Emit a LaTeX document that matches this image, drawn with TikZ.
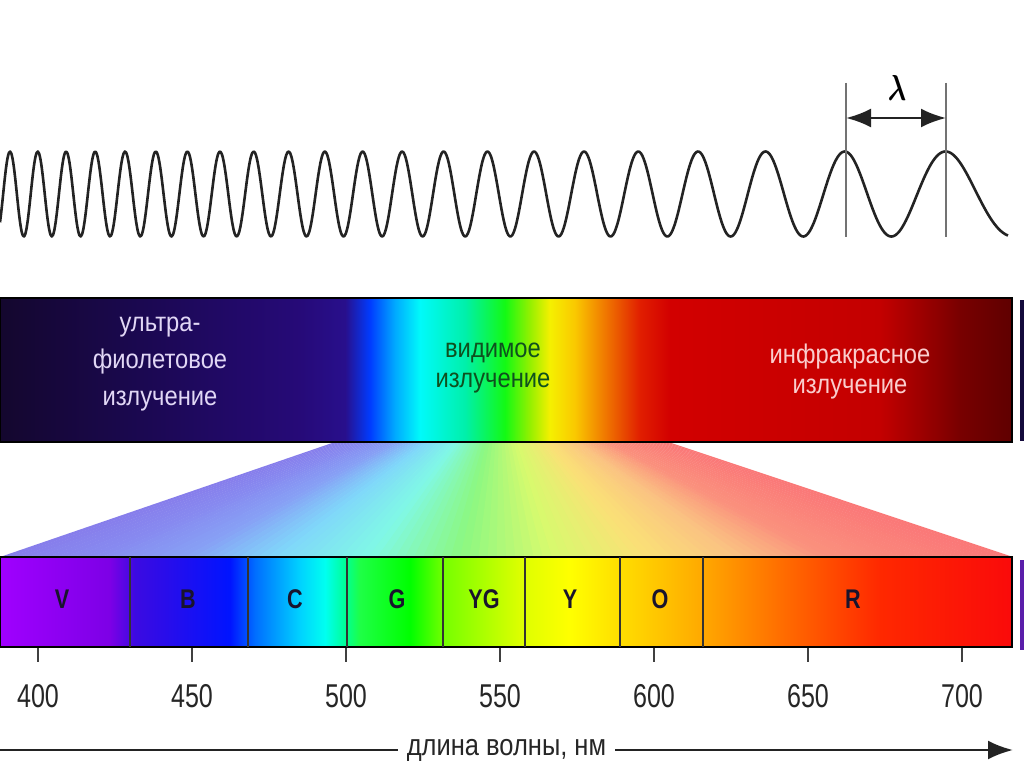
\documentclass[tikz,border=0pt]{standalone}
\usepackage{amsmath}
\usepackage{fontspec}
\setmainfont{Liberation Sans}
\newfontfamily\bandfont[FakeStretch=0.88]{Liberation Sans}
\newfontfamily\numfont[FakeStretch=0.76]{Liberation Sans}
\newfontfamily\axisfont[FakeStretch=0.85]{Liberation Sans}
\newfontfamily\letfont[FakeStretch=0.8]{Liberation Sans}
\usetikzlibrary{arrows.meta,positioning}

\pgfdeclarehorizontalshading{radband}{100bp}{rgb(0bp)=(0.078,0.027,0.18); rgb(25bp)=(0.078,0.027,0.18);
  rgb(31.42bp)=(0.102,0.031,0.306); rgb(39.82bp)=(0.149,0.039,0.471); rgb(42.05bp)=(0.157,0.059,0.549);
  rgb(43.28bp)=(0,0.235,1); rgb(44.52bp)=(0,0.667,1); rgb(45.75bp)=(0,0.98,0.98); rgb(47.98bp)=(0,0.941,0.667);
  rgb(49.95bp)=(0.078,0.98,0.078); rgb(51.19bp)=(0.588,0.941,0); rgb(52.17bp)=(0.961,0.941,0);
  rgb(53.41bp)=(0.98,0.784,0); rgb(54.89bp)=(0.941,0.471,0); rgb(56.62bp)=(0.882,0.118,0);
  rgb(58.1bp)=(0.824,0,0); rgb(68.48bp)=(0.765,0,0); rgb(72.43bp)=(0.471,0,0); rgb(75bp)=(0.373,0,0);
  rgb(100bp)=(0.373,0,0)}
\pgfdeclarehorizontalshading{visband}{100bp}{rgb(0bp)=(0.627,0,1); rgb(25bp)=(0.627,0,1);
  rgb(30.43bp)=(0.49,0,0.902); rgb(31.67bp)=(0.235,0.039,0.882); rgb(36.36bp)=(0,0.078,1);
  rgb(37.6bp)=(0,0.431,1); rgb(39.82bp)=(0,0.824,1); rgb(41.06bp)=(0,1,0.941); rgb(42.05bp)=(0,1,0.588);
  rgb(42.79bp)=(0.118,1,0.275); rgb(45.26bp)=(0,1,0); rgb(46.99bp)=(0.471,1,0); rgb(50.69bp)=(0.863,1,0);
  rgb(53.16bp)=(1,1,0); rgb(55.39bp)=(1,0.882,0); rgb(59.59bp)=(1,0.667,0); rgb(63.54bp)=(1,0.431,0);
  rgb(68.48bp)=(1,0.157,0); rgb(75bp)=(0.98,0.04,0.04); rgb(100bp)=(0.98,0.04,0.04)}

\definecolor{fun0}{RGB}{135,125,235}
\definecolor{fun1}{RGB}{135,138,240}
\definecolor{fun2}{RGB}{135,160,245}
\definecolor{fun3}{RGB}{128,215,250}
\definecolor{fun4}{RGB}{128,248,230}
\definecolor{fun5}{RGB}{140,248,130}
\definecolor{fun6}{RGB}{215,250,110}
\definecolor{fun7}{RGB}{250,225,118}
\definecolor{fun8}{RGB}{250,195,130}
\definecolor{fun9}{RGB}{250,145,125}
\definecolor{fun10}{RGB}{250,130,122}
\definecolor{fun11}{RGB}{250,120,120}
\definecolor{uvink}{RGB}{225,215,245}
\definecolor{visink}{RGB}{15,80,30}
\definecolor{irink}{RGB}{250,205,205}
\definecolor{letterink}{RGB}{25,20,45}
\definecolor{wavegray}{RGB}{35,35,35}
\definecolor{edgenavy}{RGB}{20,10,60}
\definecolor{edgeviolet}{RGB}{90,30,170}

\begin{document}
\begin{tikzpicture}
[x=1pt,y=-1pt,>={Latex[length=25pt,width=19pt]},
 wave/.style={line width=2.6pt,color=wavegray,line join=round},
 marker/.style={line width=1.1pt,color=black!55},
 band/.style={draw=black,line width=2pt},
 divider/.style={line width=1.3pt,color=black!80},
 tickmark/.style={line width=1.2pt,color=black!75},
 axisline/.style={line width=2.6pt,color=wavegray},
 bandtext/.style={align=center,inner sep=0pt,font=\bandfont\fontsize{27}{30}\selectfont},
 letter/.style={inner sep=0pt,font=\letfont\bfseries\fontsize{27}{27}\selectfont,text=letterink},
 numlabel/.style={inner sep=0pt,font=\numfont\fontsize{33}{33}\selectfont,text=black!85},
 declare function={wph(\x)=0.036785*\x-0.150105*(\x/100)^2;}]

  \fill[white] (0,0) rectangle (1024,767);
  \useasboundingbox (0,0) rectangle (1024,767);

  \draw[wave] plot[domain=0:1008,samples=800,smooth] (\x,{194-42.5*cos(360*(wph(\x)-0.36635))});

  \foreach \mx/\nm in {846/ml,946/mr} {
    \coordinate (\nm top) at (\mx,83);
    \coordinate (\nm bot) at (\mx,237);
    \draw[marker] (\nm top) -- (\nm bot);
  }
  \coordinate (laml) at (846,118);
  \coordinate (lamr) at (946,118);
  \draw[<->,line width=2.6pt,color=wavegray] (laml) -- (lamr);
  \node (lambda) at (897,88) {\scalebox{1.1}[1.45]{\fontsize{30}{30}\selectfont$\boldsymbol{\lambda}$}};

  \foreach \i in {0,...,109} {
    \pgfmathsetmacro{\fpos}{(\i+0.5)*0.1}
    \pgfmathtruncatemacro{\k}{floor(\fpos)}
    \pgfmathtruncatemacro{\kk}{min(\k+1,11)}
    \pgfmathtruncatemacro{\p}{round(100-(\fpos-\k)*100)}
    \fill[fun\k!\p!fun\kk] ({335+\i*3.02727},442) -- ({335.5+(\i+1)*3.02727},442)
      -- ({(\i+1)*9.2+1},557) -- ({\i*9.2},557) -- cycle;
  }

  \shadedraw[shading=radband,band] (0,298) rectangle (1012,442);
  \node[bandtext,text=uvink,font=\bandfont\fontsize{27}{37}\selectfont] (uvtext) at (160,364) {ультра-\\фиолетовое\\излучение};
  \node[bandtext,text=visink] (vistext) at (493,368) {видимое\\излучение};
  \node[bandtext,text=irink] (irtext) at (850,372) {инфракрасное\\излучение};

  \shadedraw[shading=visband,band] (0,557) rectangle (1012,647);
  \foreach \dx in {130,248,347,443,525,620,703}
    \draw[divider] (\dx,557) -- (\dx,647);
  \foreach \lx/\lt in {62/V,188/B,295/C,397/G,484/YG,570/Y,660/O,853/R}
    \node[letter] (let\lt) at (\lx,599) {\lt};

  \foreach \wl in {400,450,...,700} {
    \pgfmathsetmacro{\tx}{38+(\wl-400)*3.08}
    \draw[tickmark] (\tx,648) -- (\tx,662);
    \node[numlabel] (num\wl) at (\tx,696) {\wl};
  }

  \coordinate (axisl) at (0,750);
  \coordinate (axisr) at (1013,750);
  \draw[->,axisline] (axisl) -- node[fill=white,inner xsep=9pt,text=black!85,
    font=\axisfont\fontsize{30}{30}\selectfont] (axislabel) {длина волны, нм} (axisr);

  \fill[edgenavy] (1020,300) rectangle (1024,441);
  \fill[edgeviolet] (1020,560) rectangle (1024,650);

\end{tikzpicture}
\end{document}
